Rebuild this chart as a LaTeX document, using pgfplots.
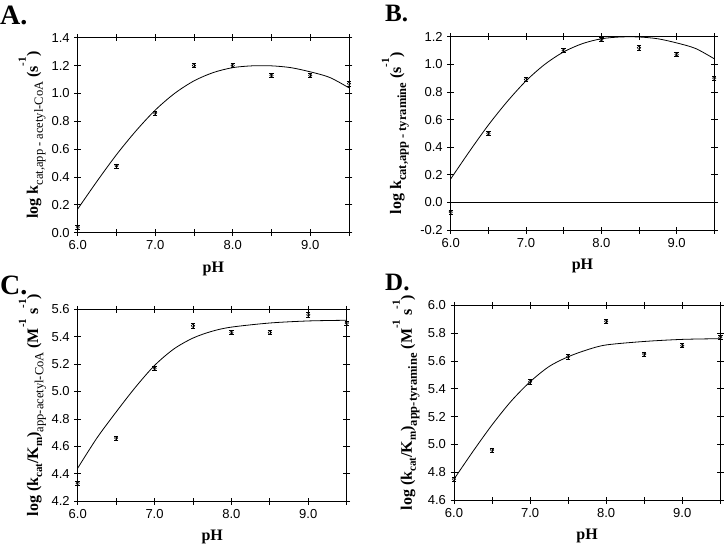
\documentclass[border=0pt]{standalone}
\usepackage{pgfplots}
\pgfplotsset{compat=1.18}
\usepackage{fontspec}
\setmainfont{Liberation Serif}
\setsansfont{Liberation Sans}
\newcommand{\lsub}[1]{\raisebox{-0.32em}{\fontsize{12.5}{12.5}\selectfont #1}}
\newcommand{\hsup}[1]{\raisebox{0.75em}{\fontsize{11}{11}\selectfont\bfseries #1}}
\newcommand{\msub}[1]{\raisebox{-0.25em}{\fontsize{11}{11}\selectfont\bfseries #1}}
\pgfplotsset{
  panel/.style={
    scale only axis, anchor=south west, clip=false,
    xmin=6, xmax=9.5,
    xtick={6,7,8,9}, xticklabels={6.0,7.0,8.0,9.0},
    minor xtick={6.5,7.5,8.5,9.5},
    tick align=center, major tick length=7pt, minor tick length=7pt,
    every tick/.style={black, line width=0.7pt},
    axis line style={line width=0.8pt},
    tick label style={font=\fontsize{13}{13}\selectfont\sffamily},
    /pgf/number format/assume math mode=true,
    yticklabel style={xshift=-1pt},
    xticklabel style={yshift=-1pt},
    every axis x label/.style={at={(axis description cs:0.5,0)}, anchor=center, yshift=-36pt, font=\fontsize{16}{16}\selectfont\bfseries},
    every axis y label/.style={anchor=center, rotate=90, font=\fontsize{16}{16}\selectfont\bfseries},
  },
  fit/.style={black, line width=0.8pt, smooth, no marks},
  pts/.style={black, only marks, mark=o, mark size=1.7pt, mark options={line width=0.5pt},
    error bars/.cd, y dir=both, y explicit,
    error bar style={line width=0.5pt},
    error mark options={rotate=90, mark size=2.2pt, line width=0.5pt}},
}
\begin{document}
\begin{tikzpicture}
\useasboundingbox (0pt,0pt) rectangle (724pt,-547pt);
% Panel A
\node[anchor=base west, font=\fontsize{28}{28}\selectfont\bfseries, inner sep=0pt] at (0pt,-24pt) {A.};
\begin{axis}[panel, at={(77.7pt,-232.7pt)}, width=271.3pt, height=195pt,
  ymin=0, ymax=1.4, ytick={0,0.2,...,1.4},
  yticklabels={0.0,0.2,0.4,0.6,0.8,1.0,1.2,1.4},
  xlabel={pH},
  ylabel={log k\lsub{\mdseries cat,app - acetyl-CoA} (s\hsup{-1})},
  ylabel style={at={(axis description cs:-0.168,0.5)}}]
\addplot[fit] coordinates {(6.0,0.17)(6.25,0.37)(6.5,0.56)(6.75,0.73)(7.0,0.88)(7.25,1.00)(7.5,1.09)(7.75,1.15)(8.0,1.185)(8.25,1.198)(8.5,1.198)(8.75,1.185)(9.0,1.155)(9.25,1.115)(9.5,1.04)};
\addplot[pts] coordinates {(6,0.04) +- (0,0.015) (6.5,0.48) +- (0,0.015) (7,0.86) +- (0,0.015) (7.5,1.20) +- (0,0.015) (8,1.20) +- (0,0.015) (8.5,1.13) +- (0,0.015) (9,1.13) +- (0,0.015) (9.5,1.07) +- (0,0.015)};
\end{axis}
% Panel B
\node[anchor=base west, font=\fontsize{25}{25}\selectfont\bfseries, inner sep=0pt] at (385pt,-21pt) {B.};
\begin{axis}[panel, at={(450.7pt,-230pt)}, width=263.6pt, height=193.3pt,
  ymin=-0.2, ymax=1.2, ytick={-0.2,0,...,1.2},
  yticklabels={-0.2,0.0,0.2,0.4,0.6,0.8,1.0,1.2},
  xlabel={pH},
  ylabel={log k\lsub{cat,app - tyramine} (s\hsup{-1})},
  ylabel style={at={(axis description cs:-0.21,0.5)}}]
\addplot[black, line width=0.8pt] coordinates {(6,0)(9.5,0)};
\addplot[fit] coordinates {(6.0,0.17)(6.25,0.37)(6.5,0.56)(6.75,0.73)(7.0,0.88)(7.25,1.00)(7.5,1.09)(7.75,1.15)(8.0,1.185)(8.25,1.198)(8.5,1.198)(8.75,1.185)(9.0,1.155)(9.25,1.115)(9.5,1.04)};
\addplot[pts] coordinates {(6,-0.07) +- (0,0.015) (6.5,0.50) +- (0,0.015) (7,0.89) +- (0,0.015) (7.5,1.10) +- (0,0.015) (8,1.18) +- (0,0.015) (8.5,1.12) +- (0,0.015) (9,1.07) +- (0,0.015) (9.5,0.90) +- (0,0.015)};
\end{axis}
% Panel C
\node[anchor=base west, font=\fontsize{28}{28}\selectfont\bfseries, inner sep=0pt] at (0pt,-294pt) {C.};
\begin{axis}[panel, at={(77.7pt,-501pt)}, width=269pt, height=191.7pt,
  ymin=4.2, ymax=5.6, ytick={4.2,4.4,...,5.6},
  yticklabels={4.2,4.4,4.6,4.8,5.0,5.2,5.4,5.6},
  xlabel={pH},
  ylabel={log (k\msub{cat}/K\msub{m})\lsub{\mdseries app-acetyl-CoA} (M\hsup{-1} s\hsup{-1})},
  ylabel style={at={(axis description cs:-0.168,0.5)}}]
\addplot[fit] coordinates {(6.0,4.44)(6.25,4.66)(6.5,4.85)(6.75,5.03)(7.0,5.19)(7.25,5.31)(7.5,5.39)(7.75,5.44)(8.0,5.47)(8.5,5.50)(9.0,5.515)(9.5,5.52)};
\addplot[pts] coordinates {(6,4.33) +- (0,0.015) (6.5,4.66) +- (0,0.015) (7,5.17) +- (0,0.015) (7.5,5.48) +- (0,0.015) (8,5.43) +- (0,0.015) (8.5,5.43) +- (0,0.015) (9,5.56) +- (0,0.015) (9.5,5.50) +- (0,0.015)};
\end{axis}
% Panel D
\node[anchor=base west, font=\fontsize{25}{25}\selectfont\bfseries, inner sep=0pt] at (385pt,-290pt) {D.};
\begin{axis}[panel, at={(454pt,-500pt)}, width=266.3pt, height=194.7pt,
  ymin=4.6, ymax=6.0, ytick={4.6,4.8,...,6.0},
  yticklabels={4.6,4.8,5.0,5.2,5.4,5.6,5.8,6.0},
  xlabel={pH},
  ylabel={log (k\msub{cat}/K\msub{m})\lsub{app-tyramine} (M\hsup{-1} s\hsup{-1})},
  ylabel style={at={(axis description cs:-0.18,0.5)}}]
\addplot[fit] coordinates {(6.0,4.75)(6.25,4.95)(6.5,5.14)(6.75,5.31)(7.0,5.45)(7.25,5.56)(7.5,5.63)(7.75,5.68)(8.0,5.715)(8.5,5.74)(9.0,5.755)(9.5,5.76)};
\addplot[pts] coordinates {(6,4.75) +- (0,0.015) (6.5,4.96) +- (0,0.015) (7,5.45) +- (0,0.015) (7.5,5.63) +- (0,0.015) (8,5.885) +- (0,0.015) (8.5,5.65) +- (0,0.015) (9,5.71) +- (0,0.015) (9.5,5.77) +- (0,0.015)};
\end{axis}
\end{tikzpicture}
\end{document}
